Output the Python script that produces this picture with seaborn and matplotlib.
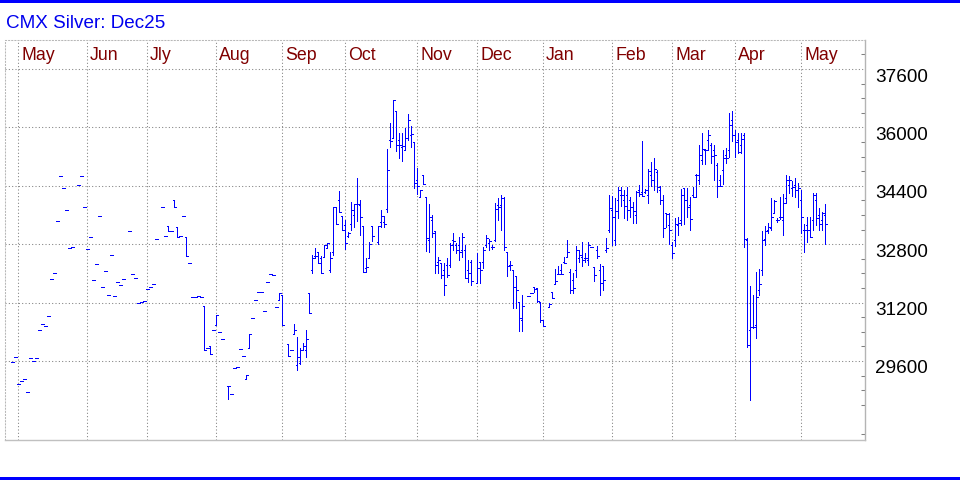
import numpy as np
import seaborn as sns
import matplotlib
matplotlib.use("Agg")
import matplotlib.pyplot as plt
import matplotlib.transforms as mtransforms
from matplotlib.patches import Rectangle

nan = np.nan

title = "CMX Silver: Dec25"
month_labels = ["May", "Jun", "Jly", "Aug", "Sep", "Oct", "Nov", "Dec",
                "Jan", "Feb", "Mar", "Apr", "May"]
# session number of the first bar of each month
month_start = [6, 29, 49, 72, 94, 115, 139, 159, 181, 204, 224, 245, 267]
price_labels = [37600, 36000, 34400, 32800, 31200, 29600]
first_session = 4

# thin early months: only a settlement printed (open = high = low = close)
early_flat = [
    29570, 29710, 28970, 29050, 29110, 28750, 29680, 29600, 29680, 30450,
    30610, 30560, 30830, 31850, 32010, 33440, 34670, 34340, 33740, 32700,
    32720, nan, 34420, 34670, 33820, 32670, 33000, 31820, 32260, 33570,
    31630, 32070, 31410, 32500, 31380, 31760, 31680, 31850, nan, 33160,
    31980, 31870, 31190, 31220, 31240, 31570, 31630, 31710, 32940, nan,
]

opens = early_flat + [
    33820, 33020, 33300, 33160, 34010, 33270, 33020, 33570, 33000, 32290,
    31350, 31350, 31380, 31350, 31110, 29960, 30010, 30450, 30590, 30390,
    30200, nan, 28910, 28700, 29410, 29440, 29930, 29740, 29110, 29960,
    30780, 31270, 31490, 31490, 30970, 31760, 31980, 31960, 31080, 31270,
    31410, nan, 30070, 29900, 30340, 29500, 29550, 29900, 29900, 31460,
    32090, 32480, 32590, 32420, 32450, 32700, 32090, 32590, 33820, 34010,
    33570, 33330, 33020, 33350, 33600, 33900, 33870, 33300, 32150, 32420,
    33300, nan, 32860, 33410, 33410, 33760, 35660, 35710, 36450, 35660,
    35460, 35380, 35710, 35790, 35600, 34560, 34090, 34700, 34090, 32920,
    33460, 33160, 32310, 32290, 32090, 32230, 32230, 32920, 32780, 32780,
    32640, 32640, 32090, 32310, nan, 31740, 32310, 32310, 32780, 32830,
    32720, 32920, 33870, 33870, 34060, 32590, 32230, 32090, 31930, 31220,
    30720, nan, 31380, 31460, 31630, 31600, 31220, 30720, nan, 31080,
    31490, 31710, 31980, 32090, 32310, 32450, 32040, 31820, 32090, 32420,
    32450, 32420, 32370, 32720, 32170, 32640, 32090, 32200, 32640, 33190,
    33740, 32920, 34010, 34150, 34010, 34150, 34010, 33820, 33600, 34290,
    34230, 34230, 34150, 34700, 34560, 34780, 34290, 34010, 33650, 33330,
    32780, 32920, 33330, 33460, 34340, 34010, 33870, 34150, 34700, 34560,
    35110, 35380, 35660, 35520, 35380, 34970, 34560, 34830, 35240, 35380,
    36200, 35790, 35660, 35520, 35790, 32920, 30450, 30530, 30590, 31550,
    32090, 32940, 33190, 33240, 33650, 33460, 33550, 33460, 34060, 34420,
    34340, 34420, 34290, 34010, 33190, 33330, 33190, 33460, 34010, 33600,
    33460, 33600,
]

highs = early_flat + [
    33820, 33020, 33300, 33160, 34010, 33270, 33020, 33570, 33000, 32290,
    31350, 31350, 31380, 31350, 31110, 29960, 30010, 30450, 30860, 30390,
    30200, nan, 28910, 28700, 29410, 29440, 29930, 29740, 29220, 30340,
    30780, 31270, 31490, 31490, 30970, 31760, 31980, 31960, 31080, 31460,
    31410, nan, 30070, 29900, 30610, 30260, 29960, 30100, 30450, 31460,
    32500, 32700, 32590, 32480, 32780, 32830, 32590, 33820, 33820, 34260,
    33570, 33460, 33130, 33960, 33900, 34610, 34010, 33300, 32420, 32860,
    33300, nan, 33300, 33740, 33570, 35410, 36120, 36750, 36450, 35850,
    35850, 35980, 36370, 36040, 35600, 34890, 34290, 34700, 34090, 33900,
    33600, 33160, 32450, 32290, 32290, 32420, 32830, 33110, 32830, 33000,
    33110, 32780, 32370, 32370, nan, 32560, 32310, 32720, 33050, 32940,
    32780, 33930, 34060, 34150, 34090, 32590, 32340, 32090, 31930, 31220,
    31410, nan, 31380, 31460, 31630, 31600, 31220, 30720, nan, 31190,
    31490, 32120, 32200, 32260, 32450, 32920, 32120, 32010, 32750, 32640,
    32860, 32560, 32860, 32720, 32170, 32750, 32260, 32200, 32970, 34150,
    34120, 34060, 34370, 34370, 34290, 34370, 34090, 33960, 34260, 34420,
    35630, 34310, 34860, 35050, 35160, 34830, 34400, 34150, 33650, 33650,
    32860, 33520, 33550, 34310, 34340, 34340, 34090, 34370, 34720, 35520,
    35850, 35410, 35930, 35570, 35520, 35030, 34700, 35380, 35440, 36400,
    36450, 35930, 35850, 35850, 35850, 32970, 31660, 31410, 32040, 32120,
    33160, 33300, 33380, 34070, 34010, 33520, 34090, 34180, 34700, 34670,
    34530, 34610, 34480, 34290, 33350, 33550, 33550, 34200, 34200, 33790,
    33680, 33900,
]

lows = early_flat + [
    33820, 33020, 33160, 33160, 33820, 33000, 33020, 33570, 32480, 32290,
    31350, 31350, 31380, 31350, 29900, 29960, 29790, 30450, 30590, 30390,
    30200, nan, 28560, 28700, 29410, 29440, 29930, 29740, 29110, 29960,
    30780, 31270, 31490, 31490, 30970, 31760, 31980, 31960, 31080, 31270,
    30590, nan, 29740, 29900, 30340, 29350, 29520, 29900, 29710, 30920,
    32010, 32420, 32290, 32010, 32450, 32700, 32040, 32500, 33350, 33680,
    33190, 32670, 33000, 33190, 33270, 33440, 33050, 32040, 32040, 32420,
    32890, nan, 32810, 33270, 33270, 33680, 35460, 35710, 35350, 35160,
    35080, 35380, 35660, 35460, 34340, 34180, 34090, 34450, 32610, 32590,
    33000, 32010, 32010, 31870, 31410, 31900, 32180, 32640, 32560, 32370,
    32450, 31870, 31760, 31680, nan, 31740, 31740, 32150, 32720, 32640,
    32670, 32890, 33460, 33190, 32640, 31930, 32090, 31050, 31050, 30420,
    30420, nan, 31380, 31460, 31490, 31220, 30670, 30560, nan, 31080,
    31330, 31710, 31980, 31980, 32290, 32450, 31460, 31460, 31900, 32310,
    32200, 32310, 32230, 32720, 31790, 32420, 31410, 31550, 32590, 33130,
    32780, 32780, 33520, 33850, 33520, 33460, 33550, 33380, 33380, 34120,
    34120, 34200, 33930, 34400, 34290, 34230, 33900, 33000, 33270, 32810,
    32420, 32750, 33050, 33330, 33350, 33550, 33190, 34090, 34090, 34450,
    34990, 34990, 35380, 35030, 34560, 34090, 34390, 34450, 35030, 35190,
    35630, 35190, 35300, 35300, 32720, 29980, 28530, 30500, 30230, 31410,
    31960, 32780, 33110, 33190, 33650, 33410, 33490, 33050, 33930, 34200,
    34120, 34090, 33820, 33110, 32590, 32860, 33000, 33190, 33330, 33190,
    33190, 32810,
]

closes = early_flat + [
    33820, 33020, 33160, 33160, 33820, 33000, 33020, 33570, 32480, 32290,
    31350, 31350, 31380, 31350, 29900, 29960, 29790, 30450, 30860, 30390,
    30200, nan, 28910, 28700, 29410, 29440, 29930, 29740, 29220, 30340,
    30780, 31270, 31490, 31490, 30970, 31760, 31980, 31960, 31080, 31460,
    30590, nan, 29740, 29900, 30450, 29700, 29900, 30000, 30200, 30920,
    32420, 32480, 32290, 32010, 32780, 32830, 32420, 33820, 33350, 33680,
    33190, 32830, 33110, 33740, 33900, 33900, 33540, 32040, 32170, 32810,
    33020, nan, 33300, 33570, 33350, 34830, 35630, 36750, 35510, 35510,
    35490, 35710, 36200, 35820, 34480, 34390, 34290, 34450, 32970, 33540,
    33110, 32230, 32370, 31960, 31680, 31960, 32780, 32890, 32640, 32590,
    33000, 31870, 32010, 31790, nan, 32150, 32090, 32640, 32970, 32890,
    32720, 33760, 33820, 34060, 32720, 32200, 32230, 31630, 31550, 30780,
    31110, nan, 31380, 31460, 31570, 31240, 30720, 30560, nan, 31160,
    31330, 31790, 31980, 31980, 32290, 32590, 31550, 31600, 32640, 32500,
    32370, 32420, 32780, 32720, 31960, 32480, 31740, 31820, 32700, 33790,
    33540, 33710, 34290, 34150, 33850, 33740, 33820, 33710, 34230, 34180,
    34120, 34290, 34810, 34560, 34860, 34370, 34010, 33240, 33630, 33190,
    32560, 33350, 33380, 34150, 34010, 33820, 33490, 34090, 34700, 35240,
    35410, 35380, 35790, 35220, 35240, 34390, 34390, 35160, 35160, 36070,
    35790, 35600, 35330, 35680, 32940, 30040, 30530, 30530, 31350, 31710,
    32920, 33160, 33270, 33550, 33980, 33460, 33550, 33930, 34560, 34560,
    34370, 34290, 34340, 33550, 33190, 33190, 33000, 34150, 33520, 33350,
    33650, 33350,
]

o = np.array(opens, dtype=float)
h = np.array(highs, dtype=float)
l = np.array(lows, dtype=float)
c = np.array(closes, dtype=float)
sessions = np.arange(first_session, first_session + len(c))
ok = ~np.isnan(c)

sns.set_theme(style="white")
plt.rcParams['font.family'] = ['Liberation Sans', 'DejaVu Sans']

fig = plt.figure(figsize=(9.6, 4.8), dpi=100)
ax = fig.add_axes([5 / 960, 40 / 480, 860 / 960, 400 / 480])
ax.set_xlim(5 / 3, 865 / 3)
ax.set_ylim(27435, 38395)
ax.set_facecolor('white')
ax.grid(False)

# dotted grid
grid_kw = dict(color='#808080', lw=0.75, ls=(0, (1, 2.2)), zorder=1)
for v in price_labels:
    ax.axhline(v, **grid_kw)
for m in month_start:
    ax.axvline(m, **grid_kw)

# OHLC bars, one pixel wide like the original
bar_kw = dict(color='#0000ff', lw=0.6, antialiased=False, zorder=3)
x = sessions[ok]
ax.vlines(x, l[ok], h[ok], **bar_kw)
ax.hlines(o[ok], x - 0.5, x, **bar_kw)
ax.hlines(c[ok], x, x + 0.5, **bar_kw)

# frame
for side in ['top', 'left']:
    ax.spines[side].set(color='#b8b8b8', linestyle=(0, (1, 2)), linewidth=0.75)
ax.spines['bottom'].set(color='#c0c0c0', linewidth=1.0)
ax.spines['right'].set(color='#b4b4b4', linewidth=1.0)

ax.set_xticks([])
ax.yaxis.tick_right()
ax.set_yticks([])
minor = [v for v in range(27600, 38400, 400) if (37600 - v) % 1600 != 0]
ax.set_yticks(minor, minor=True)
ax.tick_params(axis='y', which='minor', direction='in', length=3, width=0.75,
               color='#808080', right=True, left=False, labelright=False)

# price labels right of the frame
ytrans = mtransforms.blended_transform_factory(ax.transAxes, ax.transData)
ytrans = mtransforms.offset_copy(ytrans, fig=fig, x=10, y=-12.5, units='dots')
for v in price_labels:
    ax.text(1.0, v, f"{v}", transform=ytrans, ha='left', va='baseline',
            fontsize=13.6, color='black')

# month labels inside the top band
mtrans = mtransforms.blended_transform_factory(ax.transData, ax.transAxes)
mtrans = mtransforms.offset_copy(mtrans, fig=fig, x=3, y=0, units='dots')
for m, lab in zip(month_start, month_labels):
    ax.text(m, (440 - 60) / 400, lab, transform=mtrans, ha='left',
            va='baseline', fontsize=12.8, color='#800000')

fig.text(6 / 960, 1 - 28.3 / 480, title, ha='left', va='baseline',
         fontsize=13.6, color='#0000ee')

# blue rules at top and bottom of the image
fig.add_artist(Rectangle((0, 1 - 3 / 480), 1, 3 / 480, transform=fig.transFigure,
                         color='#0000ff', lw=0))
fig.add_artist(Rectangle((0, 0), 1, 3 / 480, transform=fig.transFigure,
                         color='#0000ff', lw=0))

fig.savefig("out.png", dpi=100, facecolor='white')
